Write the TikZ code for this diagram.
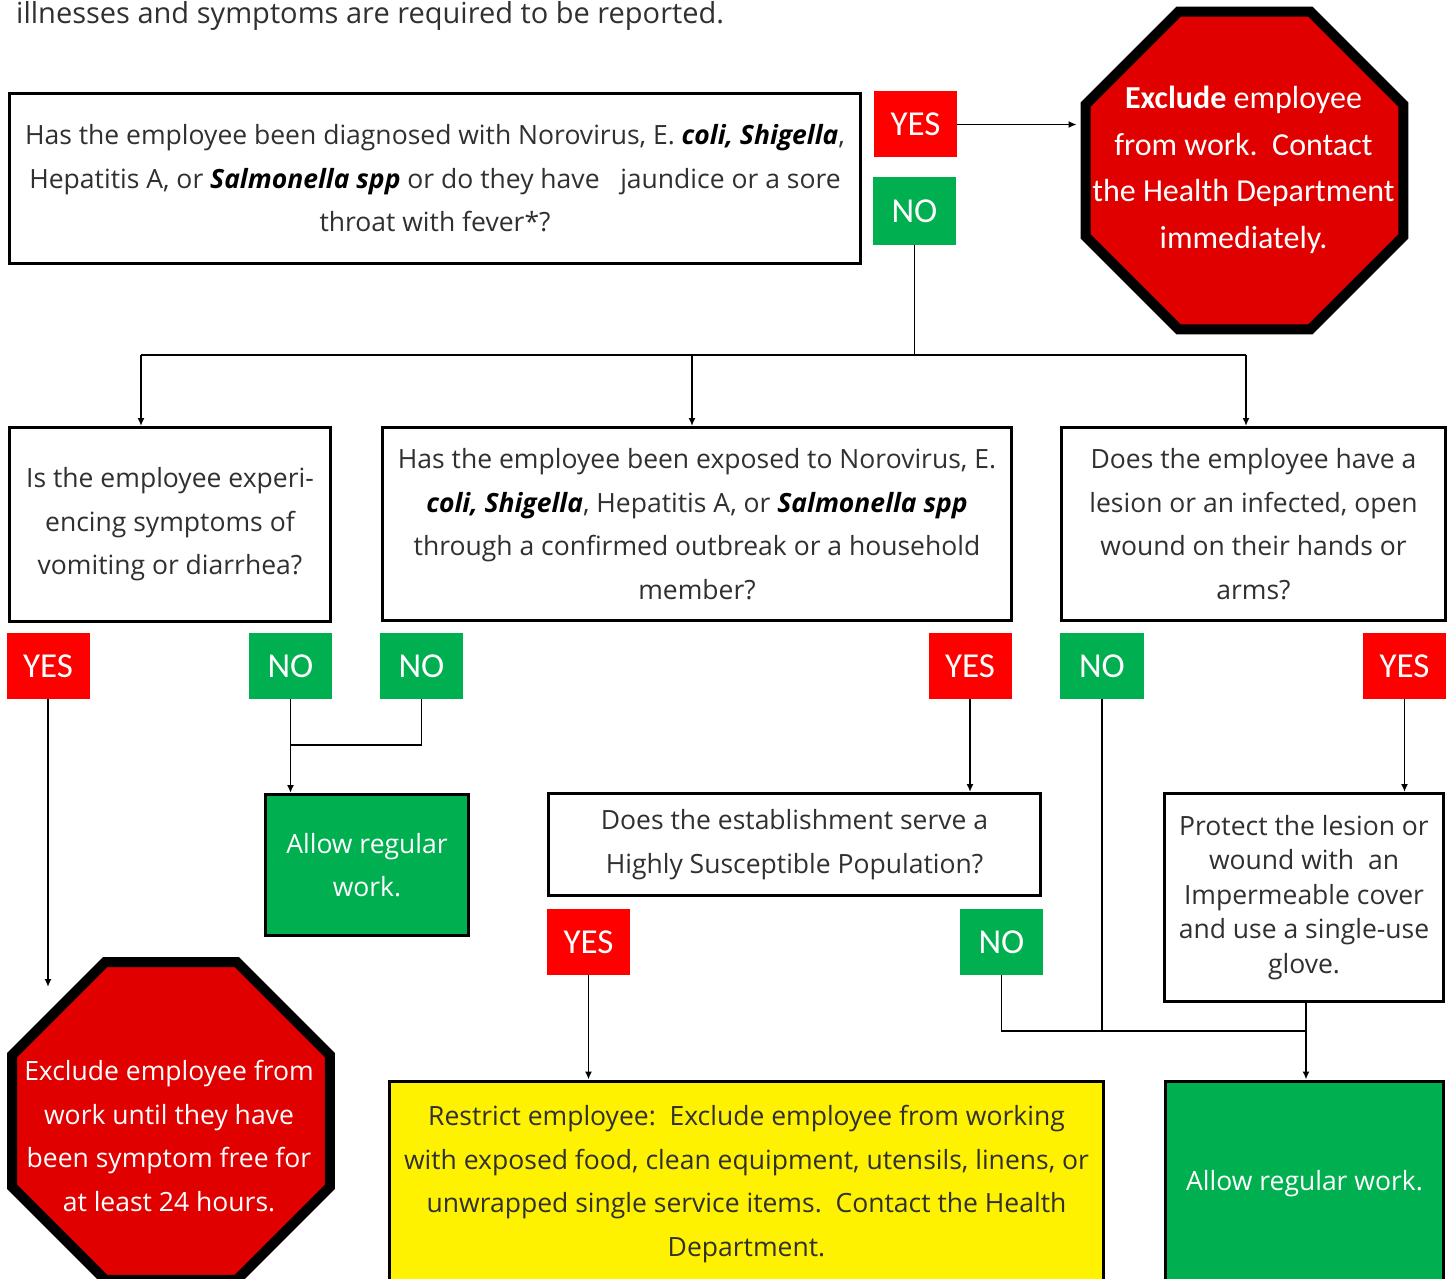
\documentclass[tikz,border=0pt]{standalone}
\usepackage{fontspec}
\setmainfont{Open Sans}
\newfontfamily\calibri{Carlito}
\usetikzlibrary{arrows.meta,shapes.geometric}
\definecolor{labred}{HTML}{FF0000}
\definecolor{labgreen}{HTML}{00B050}
\definecolor{octred}{HTML}{E00000}
\definecolor{txtgrey}{HTML}{303030}
\begin{document}
\begin{tikzpicture}[x=1pt,y=-1pt,
  qbox/.style={draw=black,line width=3pt,fill=white,inner sep=0pt,align=center,text=txtgrey,
    font=\fontsize{26.5}{43.5}\selectfont},
  greenbox/.style={qbox,fill=labgreen,text=white},
  yellowbox/.style={qbox,fill=yellow},
  lab/.style={inner sep=0pt,minimum width=83pt,minimum height=66pt,text=white,
    font=\calibri\fontsize{35}{35}\selectfont},
  yeslab/.style={lab,fill=labred},
  nolab/.style={lab,fill=labgreen},
  octo/.style={regular polygon,regular polygon sides=8,minimum size=344pt,inner sep=0pt,
    draw=black,line width=10pt,fill=octred},
  arr/.style={line width=1.8pt,-{Latex[length=8pt,width=7pt]}},
  conn/.style={line width=1.8pt}]
\clip (0,0) rectangle (1452,1279);
\useasboundingbox (0,0) rectangle (1452,1279);
\fill[white] (0,0) rectangle (1452,1279);

% header text (cut off)
\node[anchor=base west,inner sep=0pt,text=txtgrey,font=\fontsize{29}{30}\selectfont] (hdr) at (16,24)
  {illnesses and symptoms are required to be reported.};

% first question
\node[qbox,minimum width=851pt,minimum height=170pt] (q1) at (435,178.5)
  {Has the employee been diagnosed with Norovirus, E. \textcolor{black}{\textbf{\textit{coli, Shigella}}},\\
   Hepatitis A, or \textcolor{black}{\textbf{\textit{Salmonella spp}}} or do they have \ \ jaundice or a sore\\
   throat with fever*?};
\node[yeslab] (yes1) at (915.5,124.5) {YES};
\node[nolab,minimum height=68pt] (no1) at (914.5,211) {NO};

% stop sign 1
\node[octo] (oct1) at (1244.5,170.5) {};
\node[align=center,text=white,inner sep=0pt,font=\calibri\fontsize{32}{46.5}\selectfont] (oct1t) at (1243.5,170)
  {\textbf{Exclude} employee\\from work.\ \ Contact\\the Health Department\\immediately.};

\draw[arr,shorten >=4pt] (yes1.east) -- (yes1.east -| oct1.west);

% junction
\coordinate (jL) at (141,355);
\coordinate (jM) at (692,355);
\coordinate (jR) at (1246,355);
\draw[conn] (no1.south) -- (no1.south |- jL);
\draw[conn] (jL) -- (jR);

% second row questions
\node[qbox,minimum width=321pt,minimum height=194pt] (q2) at (170,524.5)
  {Is the employee experi-\\encing symptoms of\\vomiting or diarrhea?};
\node[qbox,minimum width=629pt,minimum height=193pt] (q3) at (697,524)
  {Has the employee been exposed to Norovirus, E.\\
   \textcolor{black}{\textbf{\textit{coli, Shigella}}}, Hepatitis A, or \textcolor{black}{\textbf{\textit{Salmonella spp}}}\\
   through a confirmed outbreak or a household\\member?};
\node[qbox,minimum width=384pt,minimum height=193pt] (q4) at (1253.5,524)
  {Does the employee have a\\lesion or an infected, open\\wound on their hands or\\arms?};

\draw[arr] (jL) -- (jL |- q2.north);
\draw[arr] (jM) -- (jM |- q3.north);
\draw[arr] (jR) -- (jR |- q4.north);

% answer labels
\node[yeslab] (yesA) at (48,666) {YES};
\node[nolab] (noA) at (290.5,666) {NO};
\node[nolab] (noB) at (421.5,666) {NO};
\node[yeslab] (yesB) at (970,666) {YES};
\node[nolab,minimum width=84pt] (noC) at (1102,666) {NO};
\node[yeslab] (yesC) at (1404.5,666) {YES};

% outcome: allow regular work (left)
\node[greenbox,minimum width=203pt,minimum height=141pt] (allow1) at (367,865)
  {Allow regular\\work.};
\coordinate (mA) at (291,745);
\draw[arr] (noA.south) -- (noA.south |- allow1.north);
\draw[conn] (noB.south) |- (mA);

% stop sign 2
\node[octo] (oct2) at (171,1121) {};
\node[align=center,text=white,inner sep=0pt,font=\fontsize{26.5}{43.5}\selectfont] (oct2t) at (169,1136)
  {Exclude employee from\\work until they have\\been symptom free for\\at least 24 hours.};
\coordinate (tA) at (48,987);
\draw[arr] (yesA.south) -- (tA);

% HSP question
\node[qbox,minimum width=492pt,minimum height=102pt] (hsp) at (794.5,844.5)
  {Does the establishment serve a\\Highly Susceptible Population?};
\draw[arr] (yesB.south) -- (yesB.south |- hsp.north);
\node[yeslab] (yesD) at (588.5,942) {YES};
\node[nolab] (noD) at (1001.5,942) {NO};

% restrict
\node[yellowbox,minimum width=714pt,minimum height=206pt] (restr) at (746.5,1184)
  {Restrict employee:\ \ Exclude employee from working\\
   with exposed food, clean equipment, utensils, linens, or\\
   unwrapped single service items.\ \ Contact the Health\\
   Department.};
\draw[arr] (yesD.south) -- (yesD.south |- restr.north);

% protect
\node[qbox,minimum width=279pt,minimum height=208pt,font=\fontsize{26.5}{34.5}\selectfont] (prot) at (1304,897.5)
  {Protect the lesion or\\wound with \ an\\Impermeable cover\\and use a single-use\\glove.};
\draw[arr] (yesC.south) -- (yesC.south |- prot.north);

% allow regular work (right)
\node[greenbox,minimum width=278pt,minimum height=206pt] (allow2) at (1304.5,1184)
  {Allow regular work.};
\coordinate (jB) at (1306,1031);
\draw[arr] (prot.south -| jB) -- (jB |- allow2.north);
\draw[conn] (noD.south) |- (jB);
\draw[conn] (noC.south) -- (noC.south |- jB);
\end{tikzpicture}
\end{document}
